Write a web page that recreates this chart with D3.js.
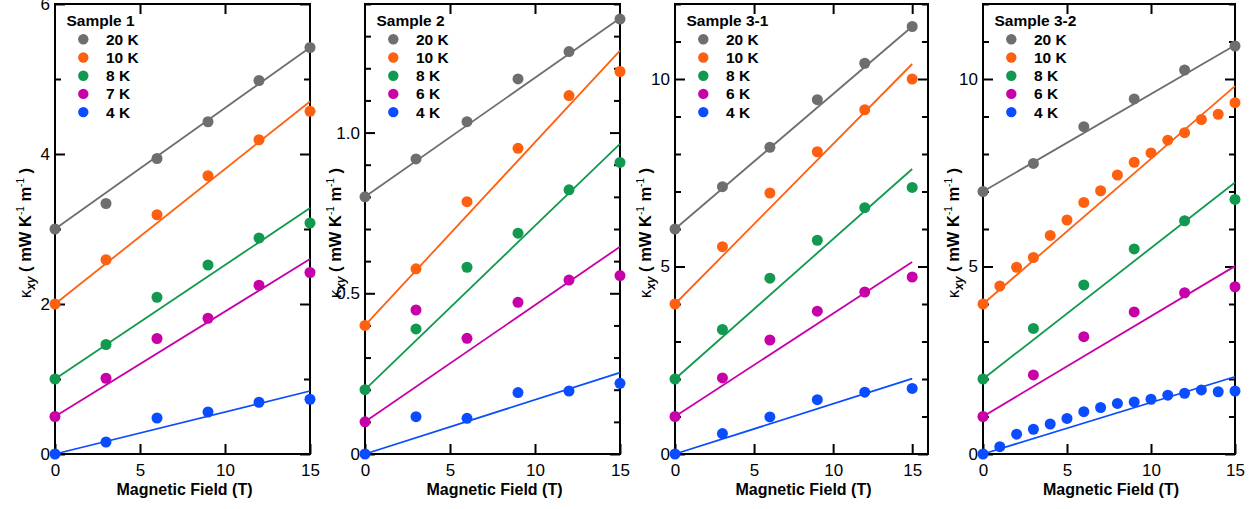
<!DOCTYPE html>
<html><head><meta charset="utf-8">
<script src="https://cdn.jsdelivr.net/npm/d3@7"></script>
<style>
body{margin:0;background:#fff}
svg{display:block}
text{font-family:"Liberation Sans",Arial,Helvetica,sans-serif;fill:#000}
</style>
</head><body>
<svg id="chart" width="1256" height="509"></svg>
<script>
// ---------- data ----------
const fieldCoarse = [0, 3, 6, 9, 12, 15];
const fieldFine = [0, 1, 2, 3, 4, 5, 6, 7, 8, 9, 10, 11, 12, 13, 14, 15];
const tempColors = ["#6e6e6e", "#ff6010", "#10994f", "#c800a8", "#0a4cff"];
const xTickValues = [0, 5, 10, 15];

const sample1Temps = ["20 K", "10 K", "8 K", "7 K", "4 K"];
const sample1Values = [
  [3.00, 3.34, 3.94, 4.43, 4.98, 5.42],
  [2.00, 2.59, 3.19, 3.71, 4.19, 4.57],
  [1.00, 1.46, 2.09, 2.52, 2.88, 3.08],
  [0.50, 1.01, 1.54, 1.81, 2.25, 2.42],
  [0.00, 0.16, 0.48, 0.56, 0.69, 0.73]
];
const sample1FitEnd = [5.42, 4.70, 3.28, 2.60, 0.84];
const sample1YTicks = [0, 2, 4, 6];

const sample2Temps = ["20 K", "10 K", "8 K", "6 K", "4 K"];
const sample2Values = [
  [0.800, 0.918, 1.034, 1.167, 1.252, 1.353],
  [0.400, 0.576, 0.785, 0.951, 1.115, 1.190],
  [0.200, 0.389, 0.581, 0.687, 0.822, 0.907],
  [0.100, 0.448, 0.360, 0.472, 0.541, 0.555],
  [0.000, 0.116, 0.111, 0.191, 0.196, 0.220]
];
const sample2FitEnd = [1.356, 1.255, 0.965, 0.645, 0.253];
const sample2YTicks = [0, 0.5, 1.0];

const sample31Temps = ["20 K", "10 K", "8 K", "6 K", "4 K"];
const sample31Values = [
  [6.00, 7.13, 8.18, 9.45, 10.42, 11.40],
  [4.00, 5.53, 6.96, 8.06, 9.18, 10.00],
  [2.00, 3.32, 4.69, 5.70, 6.57, 7.11],
  [1.00, 2.03, 3.04, 3.81, 4.32, 4.72],
  [0.00, 0.545, 0.99, 1.45, 1.65, 1.75]
];
const sample31FitEnd = [11.40, 10.40, 7.60, 5.12, 2.01];
const sample31YTicks = [0, 5, 10];

const sample32Temps = ["20 K", "10 K", "8 K", "6 K", "4 K"];
const sample32_20K = [7.00, 7.75, 8.73, 9.47, 10.24, 10.88];
const sample32_10K = [4.00, 4.48, 4.98, 5.24, 5.83, 6.24, 6.71, 7.02, 7.44, 7.78, 8.03, 8.37, 8.57, 8.92, 9.06, 9.37];
const sample32_8K = [2.00, 3.35, 4.51, 5.47, 6.22, 6.79];
const sample32_6K = [1.00, 2.11, 3.13, 3.79, 4.30, 4.46];
const sample32_4K = [0.00, 0.195, 0.53, 0.66, 0.80, 0.95, 1.13, 1.24, 1.35, 1.39, 1.46, 1.57, 1.62, 1.71, 1.66, 1.68];
const sample32FitEnd = [10.90, 9.81, 7.24, 5.01, 2.06];
const sample32YTicks = [0, 5, 10];

// ---------- panel setup ----------
const panels = [
  {title: "Sample 1", left: 55, right: 310, xMax: 15, yMax: 6, minorStep: 1, yTicks: sample1YTicks, fmt: d => String(d),
   temps: sample1Temps, fields: [fieldCoarse, fieldCoarse, fieldCoarse, fieldCoarse, fieldCoarse], values: sample1Values, fitEnd: sample1FitEnd},
  {title: "Sample 2", left: 365, right: 620, xMax: 15, yMax: 1.4, minorStep: 0.1, yTicks: sample2YTicks, fmt: d => d === 0 ? "0" : d.toFixed(1),
   temps: sample2Temps, fields: [fieldCoarse, fieldCoarse, fieldCoarse, fieldCoarse, fieldCoarse], values: sample2Values, fitEnd: sample2FitEnd},
  {title: "Sample 3-1", left: 675, right: 928, xMax: 16, yMax: 12, minorStep: 1, yTicks: sample31YTicks, fmt: d => String(d),
   temps: sample31Temps, fields: [fieldCoarse, fieldCoarse, fieldCoarse, fieldCoarse, fieldCoarse], values: sample31Values, fitEnd: sample31FitEnd},
  {title: "Sample 3-2", left: 983, right: 1235, xMax: 15, yMax: 12, minorStep: 1, yTicks: sample32YTicks, fmt: d => String(d),
   temps: sample32Temps, fields: [fieldCoarse, fieldFine, fieldCoarse, fieldCoarse, fieldFine],
   values: [sample32_20K, sample32_10K, sample32_8K, sample32_6K, sample32_4K], fitEnd: sample32FitEnd}
];

const plotTop = 4, plotBottom = 454;
const svg = d3.select("#chart");
const majorLen = 10, minorLen = 6, dotR = 5.5;

panels.forEach(p => {
  const x = d3.scaleLinear().domain([0, p.xMax]).range([p.left, p.right]);
  const y = d3.scaleLinear().domain([0, p.yMax]).range([plotBottom, plotTop]);
  const g = svg.append("g");

  const nMinor = Math.round(p.yMax / p.minorStep);
  const minorVals = d3.range(0, nMinor + 1).map(i => +(i * p.minorStep).toFixed(4)).filter(v => !p.yTicks.some(t => Math.abs(t - v) < 1e-6));
  const xTop = xTickValues.filter(v => v > 0 && v < p.xMax);

  const style = sel => {
    sel.select(".domain").remove();
    sel.selectAll("line").attr("stroke", "#000").attr("stroke-width", 2);
    sel.selectAll("text").style("font-size", "17px").attr("fill", "#000");
  };

  g.append("g").attr("transform", `translate(${p.left},0)`)
    .call(d3.axisLeft(y).tickValues(p.yTicks).tickSize(-majorLen).tickPadding(5).tickFormat(p.fmt)).call(style);
  g.append("g").attr("transform", `translate(${p.left},0)`)
    .call(d3.axisLeft(y).tickValues(minorVals).tickSize(-minorLen).tickFormat("")).call(style);
  g.append("g").attr("transform", `translate(${p.right},0)`)
    .call(d3.axisRight(y).tickValues(p.yTicks).tickSize(-majorLen).tickFormat("")).call(style);
  g.append("g").attr("transform", `translate(${p.right},0)`)
    .call(d3.axisRight(y).tickValues(minorVals).tickSize(-minorLen).tickFormat("")).call(style);
  g.append("g").attr("transform", `translate(0,${plotBottom})`)
    .call(d3.axisBottom(x).tickValues(xTickValues).tickSize(-majorLen).tickPadding(10).tickFormat(d3.format("d"))).call(style);
  g.append("g").attr("transform", `translate(0,${plotTop})`)
    .call(d3.axisTop(x).tickValues(xTop).tickSize(-majorLen).tickFormat("")).call(style);

  g.append("rect").attr("x", p.left).attr("y", plotTop).attr("width", p.right - p.left).attr("height", plotBottom - plotTop)
    .attr("fill", "none").attr("stroke", "#000").attr("stroke-width", 2);

  p.values.forEach((vals, i) => {
    g.append("line")
      .attr("x1", x(0)).attr("y1", y(vals[0]))
      .attr("x2", x(15)).attr("y2", y(p.fitEnd[i]))
      .attr("stroke", tempColors[i]).attr("stroke-width", 1.8);
  });
  p.values.forEach((vals, i) => {
    g.selectAll(null).data(vals.map((v, k) => [p.fields[i][k], v])).enter().append("circle")
      .attr("cx", d => x(d[0])).attr("cy", d => y(d[1])).attr("r", dotR).attr("fill", tempColors[i]);
  });

  g.append("text").attr("x", p.left + 11.5).attr("y", 26).style("font-size", "15.5px").style("font-weight", "bold").text(p.title);
  p.temps.forEach((t, i) => {
    const cy = 39.3 + i * 18.2;
    g.append("circle").attr("cx", p.left + 28.3).attr("cy", cy).attr("r", 5.2).attr("fill", tempColors[i]);
    g.append("text").attr("x", p.left + 51).attr("y", cy + 5.5).style("font-size", "15.5px").style("font-weight", "bold").text(t);
  });

  g.append("text").attr("x", (p.left + p.right) / 2 + 2).attr("y", 495).attr("text-anchor", "middle")
    .style("font-size", "16px").style("font-weight", "bold").text("Magnetic Field (T)");

  const yt = g.append("text").attr("transform", `translate(${p.left - 24},233) rotate(-90)`).attr("text-anchor", "middle")
    .style("font-size", "16.5px").style("font-weight", "bold").style("white-space", "pre");
  yt.append("tspan").style("font-weight", "normal").text("κ");
  yt.append("tspan").attr("dy", 4).style("font-size", "12px").style("font-style", "italic").text("xy");
  yt.append("tspan").attr("dy", -4).text(" ( mW K");
  yt.append("tspan").attr("dy", -7).style("font-size", "10px").style("font-weight", "normal").text("-1");
  yt.append("tspan").attr("dy", 7).text(" m");
  yt.append("tspan").attr("dy", -7).style("font-size", "10px").style("font-weight", "normal").text("-1");
  yt.append("tspan").attr("dy", 7).text(" )");
});
</script>
</body></html>
